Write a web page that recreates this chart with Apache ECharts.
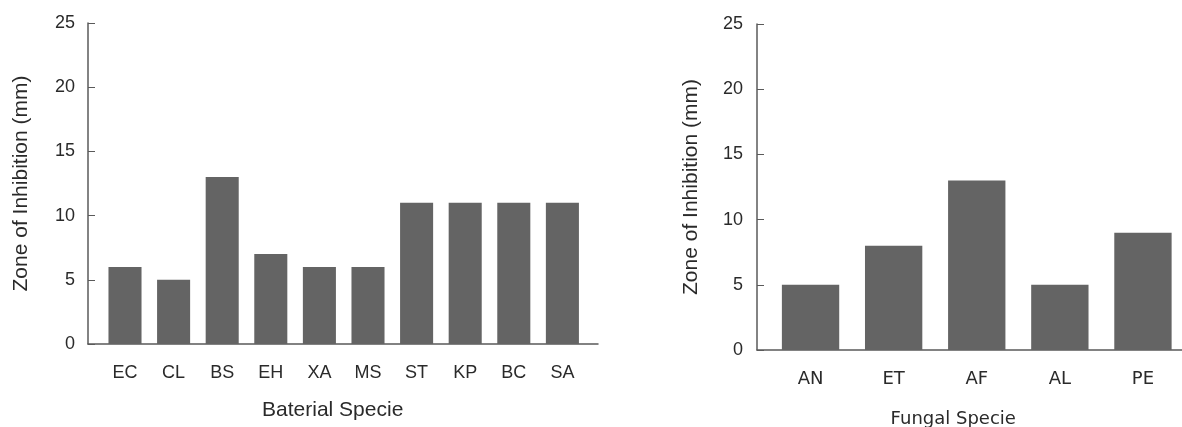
<!DOCTYPE html>
<html>
<head>
<meta charset="utf-8">
<script src="https://cdn.jsdelivr.net/npm/echarts@6/dist/echarts.min.js"></script>
<style>
html,body{margin:0;padding:0;background:#fff;}
#c{width:1182px;height:427px;}
</style>
</head>
<body>
<div id="c"></div>
<script>
const bacteriaCategories = ['EC','CL','BS','EH','XA','MS','ST','KP','BC','SA'];
const bacteriaValues = [6,5,13,7,6,6,11,11,11,11];
const fungiCategories = ['AN','ET','AF','AL','PE'];
const fungiValues = [5,8,13,5,9];
const yTicks = [0,5,10,15,20,25];
const yName = 'Zone of Inhibition (mm)';
const xNameLeft = 'Baterial Specie';
const xNameRight = 'Fungal Specie';

const FONT = 'Liberation Sans, Arial, sans-serif';
const WIDE = 'DejaVu Sans, sans-serif';
const TXT = '#2a2a2a';
const AX = '#5a5a5a';
const BAR = '#646464';

const chart = echarts.init(document.getElementById('c'), null, {renderer:'canvas'});

function yAx(gi, offset, gap, margin){
  return {
    type:'value', gridIndex:gi, min:yTicks[0], max:yTicks[yTicks.length-1], interval:5,
    offset:offset,
    name:yName, nameLocation:'middle', nameGap:gap,
    nameTextStyle:{fontFamily:FONT,fontSize:21,color:TXT},
    axisLine:{show:true,lineStyle:{color:AX,width:1.5}},
    axisTick:{show:true,inside:true,length:7,lineStyle:{color:AX,width:1}},
    axisLabel:{fontFamily:FONT,fontSize:18,color:TXT,margin:margin},
    splitLine:{show:false}
  };
}
function hiddenY(gi){
  return {type:'value',gridIndex:gi,min:0,max:1,show:false};
}
function catX(gi, cats, name, gap, pad, font, labelSize, nameSize){
  return {
    type:'category', gridIndex:gi, data:cats,
    name:name, nameLocation:'middle', nameGap:gap,
    nameTextStyle:{fontFamily:font,fontSize:nameSize,color:TXT,padding:[0,pad,0,0]},
    axisLine:{show:false},
    axisTick:{show:false},
    axisLabel:{fontFamily:font,fontSize:labelSize,color:TXT,margin:20,interval:0}
  };
}
function lineX(gi){
  return {
    type:'value', gridIndex:gi, min:0, max:1,
    axisLine:{show:true,onZero:false,lineStyle:{color:AX,width:1.5}},
    axisTick:{show:false}, axisLabel:{show:false}, splitLine:{show:false}
  };
}

const gridBase = {containLabel:false, outerBoundsMode:'none'};

chart.setOption({
  backgroundColor:'#fff',
  animation:false,
  grid:[
    Object.assign({left:100.7, width:486, top:23, height:321}, gridBase),
    Object.assign({left:88, width:510, top:23, height:321}, gridBase),
    Object.assign({left:769, width:415.5, top:24, height:326}, gridBase),
    Object.assign({left:757, width:440, top:24, height:326}, gridBase)
  ],
  xAxis:[
    catX(0, bacteriaCategories, xNameLeft, 56, 22, FONT, 18, 21),
    lineX(1),
    catX(2, fungiCategories, xNameRight, 60, 47, WIDE, 18, 18),
    lineX(3)
  ],
  yAxis:[
    yAx(0, 12.7, 56, 13),
    hiddenY(1),
    yAx(2, 12, 55, 14),
    hiddenY(3)
  ],
  series:[
    {type:'bar', xAxisIndex:0, yAxisIndex:0, data:bacteriaValues, barCategoryGap:'32%', itemStyle:{color:BAR}},
    {type:'bar', xAxisIndex:2, yAxisIndex:2, data:fungiValues, barCategoryGap:'31%', itemStyle:{color:BAR}}
  ]
});
</script>
</body>
</html>
